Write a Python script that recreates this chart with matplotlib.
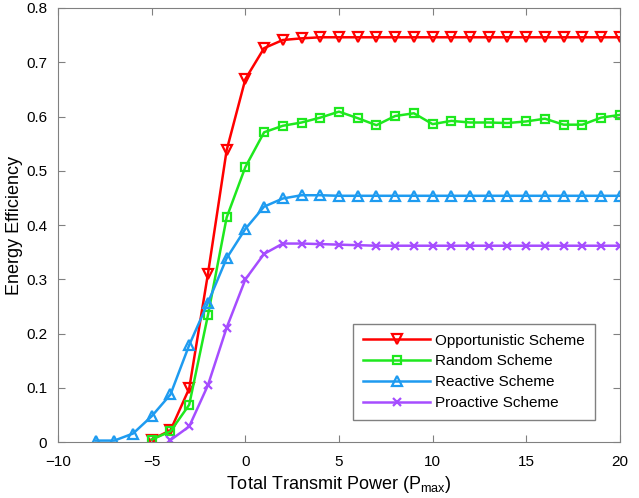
import numpy as np
import matplotlib
matplotlib.use('Agg')
import matplotlib.pyplot as plt

plt.rcParams['font.family'] = ['Liberation Sans', 'DejaVu Sans']

# data
x_opp = list(range(-5, 21))
opportunistic = [0.005, 0.022, 0.099, 0.31, 0.538, 0.669, 0.726, 0.741, 0.744, 0.746,
                 0.746, 0.746, 0.746, 0.746, 0.746, 0.746, 0.746, 0.746, 0.746, 0.746,
                 0.746, 0.746, 0.746, 0.746, 0.746, 0.746]

x_rand = list(range(-5, 21))
random_scheme = [0.005, 0.02, 0.069, 0.234, 0.414, 0.507, 0.571, 0.583, 0.589, 0.598,
                 0.609, 0.597, 0.584, 0.601, 0.606, 0.586, 0.592, 0.589, 0.589, 0.588,
                 0.591, 0.596, 0.585, 0.585, 0.598, 0.603]

x_reac = list(range(-8, 21))
reactive = [0.003, 0.003, 0.016, 0.048, 0.088, 0.179, 0.257, 0.339, 0.393, 0.434,
            0.449, 0.455, 0.455, 0.454, 0.454, 0.454, 0.454, 0.454, 0.454, 0.454,
            0.454, 0.454, 0.454, 0.454, 0.454, 0.454, 0.454, 0.454, 0.454]

x_proa = list(range(-4, 21))
proactive = [0.004, 0.029, 0.105, 0.211, 0.3, 0.347, 0.366, 0.366, 0.365, 0.364,
             0.363, 0.362, 0.362, 0.362, 0.362, 0.362, 0.362, 0.362, 0.362, 0.362,
             0.362, 0.362, 0.362, 0.362, 0.362]

fig = plt.figure(figsize=(6.39, 4.98), dpi=100)
ax = fig.add_axes([0.091, 0.112, 0.879, 0.872])

ax.plot(x_opp, opportunistic, color='#ff0000', marker='v', mfc='none', ms=7, mew=1.6,
        lw=1.8, label='Opportunistic Scheme')
ax.plot(x_rand, random_scheme, color='#1ee81e', marker='s', mfc='none', ms=5.5, mew=1.6,
        lw=1.8, label='Random Scheme')
ax.plot(x_reac, reactive, color='#1e9bf0', marker='^', mfc='none', ms=7, mew=1.6,
        lw=1.8, label='Reactive Scheme')
ax.plot(x_proa, proactive, color='#a64dff', marker='x', ms=6, mew=1.6,
        lw=1.8, label='Proactive Scheme')

ax.set_xlim(-10, 20)
ax.set_ylim(0, 0.8)
ax.set_xticks(range(-10, 21, 5))
ax.set_yticks(np.arange(0, 0.81, 0.1))
ax.set_yticklabels(['0', '0.1', '0.2', '0.3', '0.4', '0.5', '0.6', '0.7', '0.8'])
ax.tick_params(direction='in', top=True, right=True, labelsize=11, length=5, color='#808080')
ax.tick_params(axis='x', pad=9)
ax.tick_params(axis='y', pad=8)
for sp in ax.spines.values():
    sp.set_color('#808080')

ax.set_xlabel(r'Total Transmit Power (P$_{\mathregular{max}}$)', fontsize=13, labelpad=4)
ax.set_ylabel('Energy Efficiency', fontsize=13, labelpad=2)

leg = ax.legend(loc='lower right', bbox_to_anchor=(0.955, 0.051), borderaxespad=0,
                fontsize=11, fancybox=False, edgecolor='#808080', framealpha=1,
                handlelength=4.4, borderpad=0.65, labelspacing=0.45, handletextpad=0.3)
leg.get_frame().set_linewidth(1.0)

fig.savefig('out.png', dpi=100)
